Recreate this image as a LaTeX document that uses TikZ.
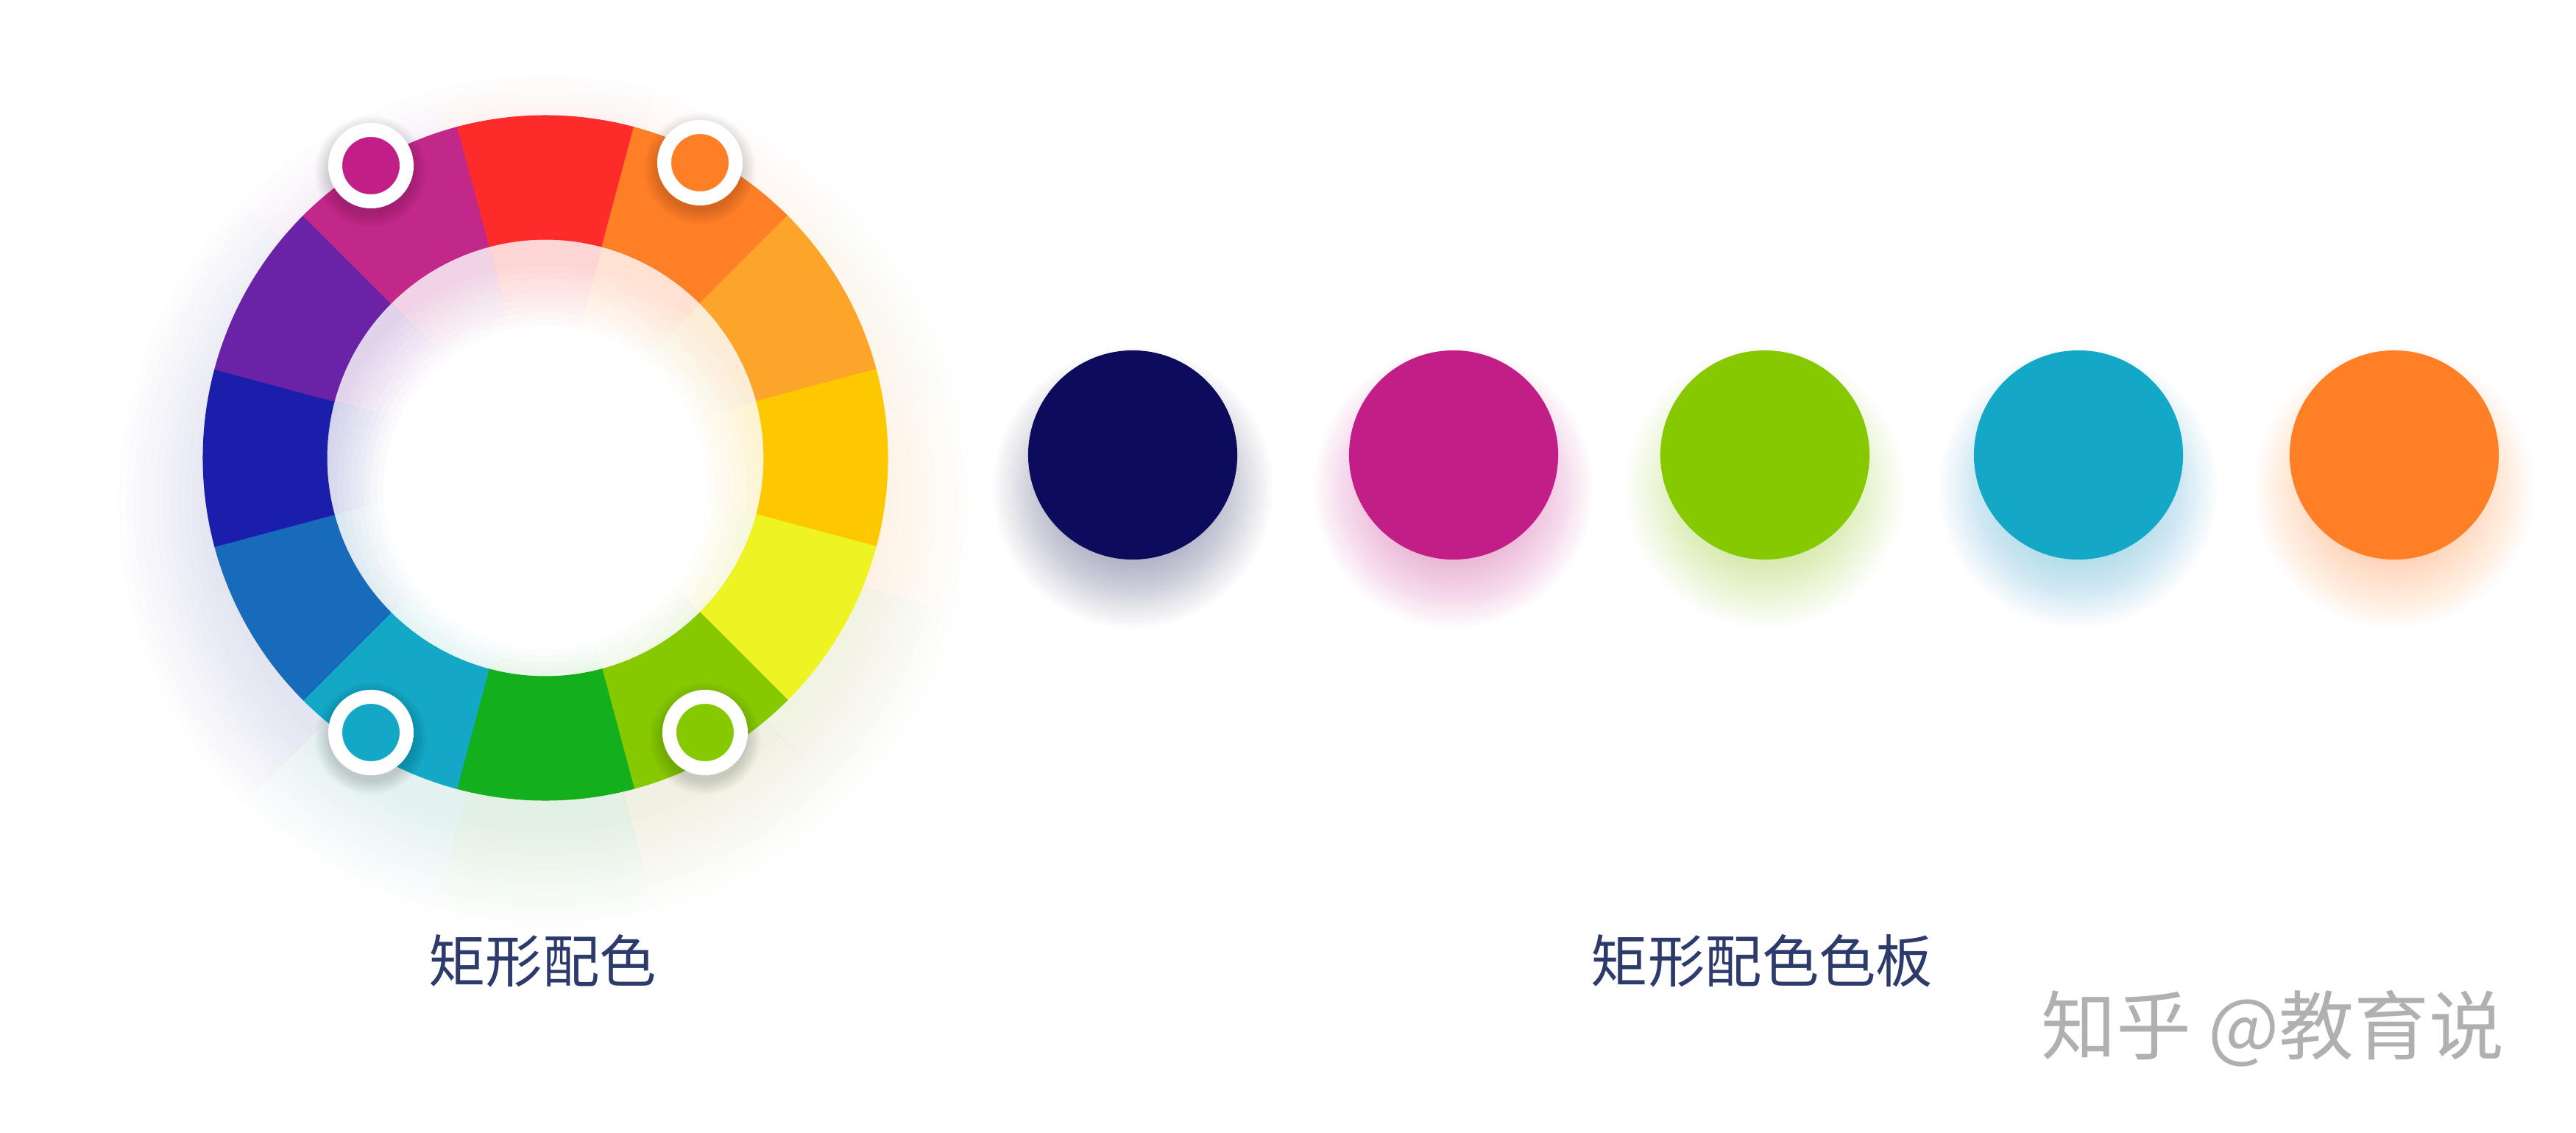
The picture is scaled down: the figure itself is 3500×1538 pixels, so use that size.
\documentclass[tikz,border=0pt]{standalone}
\usepackage{fontspec}
\newfontfamily\cjk{Noto Sans CJK SC}
\usetikzlibrary{positioning}

\definecolor{wRed}{HTML}{FE2B2B}
\definecolor{wOrange}{HTML}{FF7F27}
\definecolor{wAmber}{HTML}{FCA52A}
\definecolor{wGold}{HTML}{FEC800}
\definecolor{wYellow}{HTML}{EEF322}
\definecolor{wLime}{HTML}{87C900}
\definecolor{wGreen}{HTML}{13AF1C}
\definecolor{wCyan}{HTML}{13A8C5}
\definecolor{wBlue}{HTML}{176BBA}
\definecolor{wNavy}{HTML}{1A1EAA}
\definecolor{wPurple}{HTML}{6A22A6}
\definecolor{wMagenta}{HTML}{C2278A}
\definecolor{pNavy}{HTML}{0D0C5C}
\definecolor{pMagenta}{HTML}{C21E87}
\definecolor{capBlue}{HTML}{2C3A6C}
\definecolor{markGray}{HTML}{B0B0B0}

\begin{document}
\begin{tikzpicture}[x=0.01cm, y=0.01cm,
    swatch/.style={shape=circle, inner sep=0pt, minimum size=2.84cm},
    marker/.style={shape=circle, draw=white, line width=0.19cm, inner sep=0pt, minimum size=0.97cm},
    caption/.style={font=\cjk\fontsize{22}{26}\selectfont, text=capBlue}]
    \fill[white] (0,0) rectangle (3500,1538);
    \useasboundingbox (0,0) rectangle (3500,1538);
    \coordinate (W) at (741,916);
    \coordinate (Wlow) at (741,876);
    \coordinate (Wglow) at (741,856);

    % soft glow round the wheel
    \foreach \ang/\col in {90/wRed, 60/wOrange, 30/wAmber, 0/wGold, -30/wYellow, -60/wLime,
            -90/wGreen, -120/wCyan, -150/wBlue, 180/wNavy, 150/wPurple, 120/wMagenta} {
        \foreach \k in {1,...,14} {
            \fill[\col, opacity=0.009] ([shift={(\ang-15:400)}]Wglow) arc (\ang-15:\ang+15:400)
                -- ([shift={(\ang+15:440+\k*10)}]Wglow) arc (\ang+15:\ang-15:440+\k*10) -- cycle;
        }
    }

    % the wheel
    \foreach \ang/\col in {90/wRed, 60/wOrange, 30/wAmber, 0/wGold, -30/wYellow, -60/wLime,
            -90/wGreen, -120/wCyan, -150/wBlue, 180/wNavy, 150/wPurple, 120/wMagenta} {
        \fill[\col, draw=\col, line width=0.3pt] ([shift={(\ang-15:465)}]W) arc (\ang-15:\ang+15:465)
            -- ([shift={(\ang+15:297)}]W) arc (\ang+15:\ang-15:297) -- cycle;
    }

    % glow inside the ring
    \begin{scope}
        \clip (W) circle (297);
        \foreach \ang/\col in {90/wRed, 60/wOrange, 30/wAmber, 0/wGold, -30/wYellow, -60/wLime,
                -90/wGreen, -120/wCyan, -150/wBlue, 180/wNavy, 150/wPurple, 120/wMagenta} {
            \begin{scope}
                \clip (W) -- ([shift={(\ang-15:700)}]W) arc (\ang-15:\ang+15:700) -- cycle;
                \foreach \k in {1,...,10} {
                    \fill[\col, opacity=0.02, even odd rule] (W) circle (300) (Wlow) circle (310-\k*9);
                }
            \end{scope}
        }
    \end{scope}

    % markers on the wheel
    \foreach \name/\px/\py/\col in {mMag/504/1313/pMagenta, mOra/951/1317/wOrange,
            mCya/504/543/wCyan, mLim/958/543/wLime} {
        \foreach \k in {1,...,8} {
            \fill[black, opacity=0.02] (\px,\py-8) circle (56+\k*2.5);
        }
        \node[marker, fill=\col] (\name) at (\px,\py) {};
    }

    % swatches
    \foreach \i/\px/\col in {1/1539/pNavy, 2/1975/pMagenta, 3/2398/wLime, 4/2824/wCyan, 5/3253/wOrange} {
        \foreach \k in {1,...,20} {
            \fill[\col, opacity=0.016] (\px,875) circle (100+\k*4.5);
        }
        \node[swatch, fill=\col] (sw\i) at (\px,920) {};
    }

    \node[caption] (capWheel) at (737,233) {矩形配色};
    \node[caption] (capSwatch) at (2394,233) {矩形配色色板};
    \node[font=\cjk\fontsize{29}{34}\selectfont, text=markGray] (mark) at (3088,141) {知乎 @教育说};
\end{tikzpicture}
\end{document}
